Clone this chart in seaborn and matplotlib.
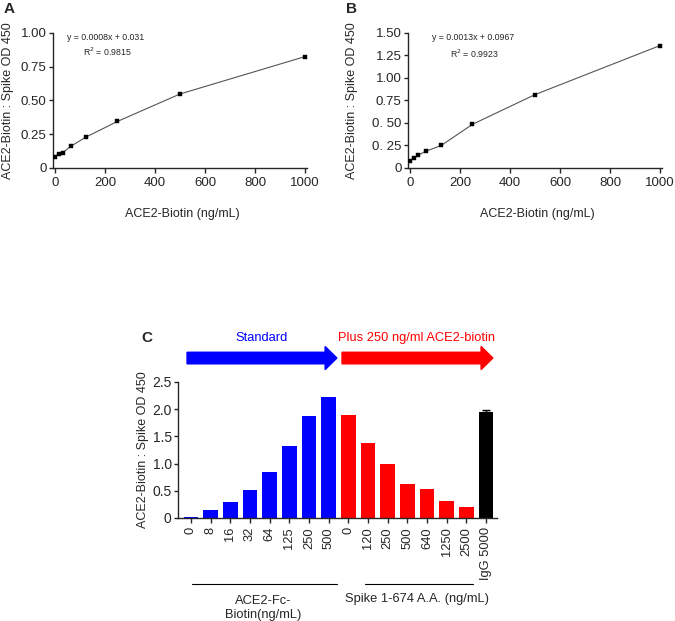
import numpy as np
import pandas as pd
import seaborn as sns
import matplotlib.pyplot as plt
from matplotlib.patches import FancyArrow
from matplotlib.transforms import blended_transform_factory

# --- data ---
conc = [0, 15.6, 31.25, 62.5, 125, 250, 500, 1000]
od_a = [0.085, 0.107, 0.114, 0.16, 0.23, 0.345, 0.548, 0.825]
od_b = [0.078, 0.11, 0.14, 0.185, 0.25, 0.485, 0.815, 1.36]

bar_labels = ['0', '8', '16', '32', '64', '125', '250', '500',
              '0', '120', '250', '500', '640', '1250', '2500', 'IgG 5000']
bar_values = [0.02, 0.15, 0.29, 0.52, 0.85, 1.33, 1.87, 2.23,
              1.90, 1.37, 0.99, 0.63, 0.53, 0.32, 0.21, 1.95]
bar_errors = [0.0, 0.0, 0.0, 0.0, 0.0, 0.0, 0.0, 0.0,
              0.0, 0.0, 0.0, 0.0, 0.0, 0.0, 0.0, 0.04]
bar_group = ['Standard'] * 8 + ['Plus'] * 7 + ['IgG']

sns.set_style("ticks")
plt.rcParams['font.family'] = ['Liberation Sans', 'DejaVu Sans']
plt.rcParams['axes.linewidth'] = 1.0
plt.rcParams['xtick.major.width'] = 1.0
plt.rcParams['ytick.major.width'] = 1.0
plt.rcParams['xtick.major.size'] = 3.5
plt.rcParams['ytick.major.size'] = 3

fig = plt.figure(figsize=(6.75, 6.21), dpi=100)

ylab = 'ACE2-Biotin : Spike OD 450'


def curve_panel(rect, y, ymax, ticks, ticklabels, eq, r2, eq_pos, r2_pos, ylab_x):
    ax = fig.add_axes(rect)
    df = pd.DataFrame({'x': conc, 'y': y})
    sns.lineplot(data=df, x='x', y='y', ax=ax, color='#555555', linewidth=0.8)
    sns.scatterplot(data=df, x='x', y='y', ax=ax, color='black', marker='s',
                    s=10, edgecolor='black', linewidth=0.3, zorder=3)
    ax.set_xlim(-8, 1010)
    ax.set_ylim(0, ymax)
    ax.set_xticks([0, 200, 400, 600, 800, 1000])
    ax.set_yticks(ticks)
    ax.set_yticklabels(ticklabels)
    ax.tick_params(axis='y', labelsize=9.5, pad=1.5)
    ax.tick_params(axis='x', labelsize=9.5, pad=3)
    ax.set_xlabel('ACE2-Biotin (ng/mL)', fontsize=9)
    ax.set_ylabel(ylab, fontsize=9)
    ax.xaxis.set_label_coords(0.51, -0.30)
    ax.yaxis.set_label_coords(ylab_x, 0.5)
    sns.despine(ax=ax)
    ax.text(eq_pos[0], eq_pos[1], eq, transform=ax.transAxes, fontsize=6.3, va='center')
    ax.text(r2_pos[0], r2_pos[1], r2, transform=ax.transAxes, fontsize=6.3, va='center')
    return ax


axA = curve_panel([0.0785, 0.7295, 0.377, 0.2174], od_a, 1.0,
                  [0, 0.25, 0.5, 0.75, 1.0], ['0', '0.25', '0.50', '0.75', '1.00'],
                  'y = 0.0008x + 0.031', r'R$^2$ = 0.9815',
                  (0.055, 0.965), (0.118, 0.86), -0.153)
axB = curve_panel([0.6044, 0.7295, 0.377, 0.2174], od_b, 1.5,
                  [0, 0.25, 0.5, 0.75, 1.0, 1.25, 1.5],
                  ['0', '0. 25', '0. 50', '0.75', '1.00', '1.25', '1.50'],
                  'y = 0.0013x + 0.0967', r'R$^2$ = 0.9923',
                  (0.094, 0.963), (0.165, 0.845), -0.196)
fig.text(0.006, 0.985, 'A', fontsize=11, fontweight='bold', va='center')
fig.text(0.512, 0.985, 'B', fontsize=11, fontweight='bold', va='center')

# --- panel C ---
axC = fig.add_axes([0.2637, 0.1659, 0.4726, 0.219])
xs = np.arange(len(bar_values))
colors = {'Standard': '#0000ff', 'Plus': '#ff0000', 'IgG': '#000000'}
dfc = pd.DataFrame({'x': xs, 'y': bar_values, 'g': bar_group})
sns.barplot(data=dfc, x='x', y='y', hue='g', palette=colors, ax=axC,
            width=0.76, dodge=False, legend=False, native_scale=True,
            saturation=1, edgecolor='none')
err_idx = [i for i, e in enumerate(bar_errors) if e > 0]
axC.errorbar(xs[err_idx], [bar_values[i] for i in err_idx],
             yerr=[[0] * len(err_idx), [bar_errors[i] for i in err_idx]],
             fmt='none', ecolor='black', elinewidth=1, capsize=3, capthick=1)
axC.set_xlim(-0.66, 15.56)
axC.set_ylim(0, 2.5)
axC.set_yticks([0, 0.5, 1.0, 1.5, 2.0, 2.5])
axC.set_yticklabels(['0', '0.5', '1.0', '1.5', '2.0', '2.5'])
axC.set_xticks(xs)
axC.set_xticklabels(bar_labels, rotation=90)
axC.tick_params(axis='y', labelsize=10, pad=1.5)
axC.tick_params(axis='x', labelsize=9.3, pad=3)
axC.set_xlabel('')
axC.set_ylabel(ylab, fontsize=9)
axC.yaxis.set_label_coords(-0.091, 0.5)
sns.despine(ax=axC)

tr = blended_transform_factory(axC.transData, axC.transAxes)
for x0, x1, c in [(-0.2, 7.42, '#0000ff'), (7.68, 15.35, '#ff0000')]:
    axC.add_patch(FancyArrow(x0, 1.176, x1 - x0, 0, width=0.085, head_width=0.17,
                             head_length=0.6, length_includes_head=True,
                             color=c, transform=tr, clip_on=False))
axC.text(3.61, 1.32, 'Standard', color='#0000ff', fontsize=9.3,
         ha='center', va='center', transform=tr)
axC.text(11.49, 1.32, 'Plus 250 ng/ml ACE2-biotin', color='#ff0000', fontsize=9.3,
         ha='center', va='center', transform=tr)
fig.text(0.21, 1 - 338 / 621, 'C', fontsize=11, fontweight='bold', va='center')

axC.plot([0.05, 7.42], [-0.485, -0.485], color='black', lw=0.8,
         transform=tr, clip_on=False)
axC.plot([8.85, 14.34], [-0.485, -0.485], color='black', lw=0.8,
         transform=tr, clip_on=False)
axC.text(3.66, -0.66, 'ACE2-Fc-\nBiotin(ng/mL)', fontsize=9.3, ha='center',
         va='center', linespacing=1.25, transform=tr)
axC.text(11.5, -0.596, 'Spike 1-674 A.A. (ng/mL)', fontsize=9.3, ha='center',
         va='center', transform=tr)

plt.savefig('out.png', dpi=100)
